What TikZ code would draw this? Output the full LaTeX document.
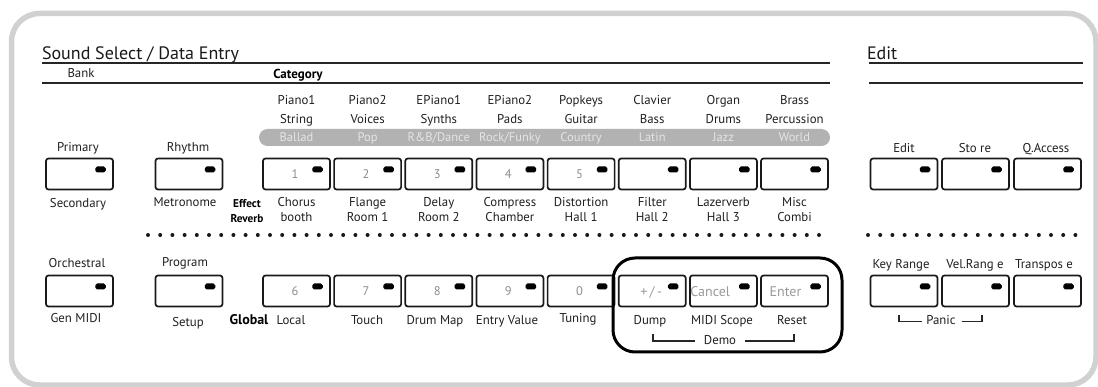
\documentclass[tikz,border=0pt]{standalone}
\usepackage{fontspec}
\setmainfont{PT Sans}
\newcommand\slashtxt{/}
\begin{document}
\begin{tikzpicture}[x=1pt,y=-1pt,
  every node/.style={inner sep=0pt,outer sep=0pt},
  lbl/.style={font=\fontsize{12.8}{12.8}\selectfont,text=black!88,text height=9pt,text depth=0pt},
  title/.style={font=\fontsize{18}{18}\selectfont,text=black!90,text height=13pt,text depth=0pt},
  hbold/.style={font=\bfseries\fontsize{13}{13}\selectfont,text=black,text height=9pt,text depth=0pt},
  sbold/.style={font=\bfseries\fontsize{11.3}{11.3}\selectfont,text=black,text height=8pt,text depth=0pt},
  gbold/.style={font=\bfseries\fontsize{14}{14}\selectfont,text=black,text height=10pt,text depth=0pt},
  btn/.style={draw=black!90,line width=1.7pt,rounded corners=2.5pt,minimum width=67pt,minimum height=31pt},
  led/.style={fill=black,rounded corners=1.8pt,minimum width=10.5pt,minimum height=6pt},
  num/.style={font=\fontsize{12.5}{12.5}\selectfont,text=black!45,text height=8.5pt,text depth=0pt},
  bignum/.style={font=\fontsize{14}{14}\selectfont,text=black!40,text height=10pt,text depth=0pt},
  bartxt/.style={font=\fontsize{12.5}{12.5}\selectfont,text=black!10,text height=8.5pt,text depth=0pt},
  rule/.style={line width=2pt,draw=black!85},
  brk/.style={line width=1.5pt,draw=black!85},
  dotc/.style={fill=black!90}
]
\useasboundingbox (0,0) rectangle (1098,387);
% outer frame
\draw[black!18,line width=5.5pt,rounded corners=28pt] (11.5,13.5) rectangle (1096,385);

% headers
\node[title,anchor=west] (sstitle) at (42,53) {Sound Select / Data Entry};
\node[title,anchor=west] (edtitle) at (867,53) {Edit};
\draw[rule] (42,63) -- (830,63);
\draw[rule] (42,83) -- (830,83);
\draw[rule] (869,63) -- (1083,63);
\draw[rule] (869,83) -- (1083,83);
\node[lbl] (bank) at (81,73) {Bank};
\node[hbold] (category) at (298,74) {Category};

% gray band
\node[fill=black!30,rounded corners=8.5pt,minimum width=571pt,minimum height=17pt] (band) at (544.5,137.5) {};

% top row buttons
\foreach \n/\x in {pri/79.5,rhy/189,c1/296.5,c2/367.6,c3/438.8,c4/509.9,c5/581.1,c6/652.2,c7/723.4,c8/794.5,ed/904,st/975.5,qa/1047.5}{
  \node[btn] (\n) at (\x,174) {};
  \node[led] (\n-led) at ([xshift=21pt,yshift=4.5pt]\n.center) {};
}
% bottom row buttons
\foreach \n/\x in {orc/79.5,prg/189,d1/296.5,d2/367.6,d3/438.8,d4/509.9,d5/581.1,d6/652.2,d7/723.4,d8/794.5,kr/904,vr/975.5,tr/1047.5}{
  \node[btn] (\n) at (\x,291) {};
  \node[led] (\n-led) at ([xshift=21pt,yshift=4.5pt]\n.center) {};
}

% category texts
\foreach \n/\a/\b/\c/\d/\e in {c1/Piano1/String/Ballad/Chorus/booth,
  c2/Piano2/Voices/Pop/Flange/Room 1,
  c3/EPiano1/Synths/R\&B\slashtxt Dance/Delay/Room 2,
  c4/EPiano2/Pads/Rock\slashtxt Funky/Compress/Chamber,
  c5/Popkeys/Guitar/Country/Distortion/Hall 1,
  c6/Clavier/Bass/Latin/Filter/Hall 2,
  c7/Organ/Drums/Jazz/Lazerverb/Hall 3,
  c8/Brass/Percussion/World/Misc/Combi}{
  \path (\n.center) ++(0,-74) node[lbl] (\n-t1) {\a};
  \path (\n.center) ++(0,-55) node[lbl] (\n-t2) {\b};
  \path (\n.center) ++(0,-36.5) node[bartxt] (\n-bar) {\c};
  \path (\n.center) ++(0,28) node[lbl] (\n-b1) {\d};
  \path (\n.center) ++(0,43) node[lbl] (\n-b2) {\e};
}

% numbers
\foreach \n/\t in {c1/1,c2/2,c3/3,c4/4,c5/5,d1/6,d2/7,d3/8,d4/9,d5/0}{
  \node[num] (\n-num) at ([xshift=-1.5pt,yshift=-0.5pt]\n.center) {\t};
}
\node[bignum] (d6-num) at ([xshift=-1pt,yshift=-0.5pt]d6.center) {+\,/\,-};
\node[bignum,anchor=west] (d7-num) at ([xshift=-33pt,yshift=-0.5pt]d7.center) {Cancel};
\node[bignum] (d8-num) at ([xshift=-9pt,yshift=-0.5pt]d8.center) {Enter};

% left and right labels, top row
\node[lbl] (primary) at (78,147) {Primary};
\node[lbl] (rhythm) at (188,147) {Rhythm};
\node[lbl] (secondary) at (78,203) {Secondary};
\node[lbl] (metronome) at (185,202) {Metronome};
\node[sbold] (effect) at (247,204) {Effect};
\node[sbold] (reverb) at (247,219) {Reverb};
\node[lbl] (edit) at (904,148) {Edit};
\node[lbl] (store) at (975,148) {Sto re};
\node[lbl] (qaccess) at (1046,148) {Q.Access};

% dotted separators
\foreach \i in {0,...,55}{\fill[dotc] (148+\i*12.2,235) circle (2);}
\foreach \i in {0,...,17}{\fill[dotc] (868+\i*12.2,235) circle (2);}

% bottom row labels
\node[lbl] (orchestral) at (77,263) {Orchestral};
\node[lbl] (program) at (185,262) {Program};
\node[lbl] (genmidi) at (76,318) {Gen MIDI};
\node[lbl] (setup) at (188,322) {Setup};
\node[gbold] (global) at (249,320) {Global};
\node[lbl] (local) at (291,320) {Local};
\node[lbl] (touch) at (367,320) {Touch};
\node[lbl] (drummap) at (435,320) {Drum Map};
\node[lbl] (entryvalue) at (507,320) {Entry Value};
\node[lbl] (tuning) at (578,318) {Tuning};
\node[lbl] (dump) at (650,320) {Dump};
\node[lbl] (midiscope) at (722,320) {MIDI Scope};
\node[lbl] (reset) at (792,320) {Reset};
\node[lbl] (keyrange) at (901,264) {Key Range};
\node[lbl] (velrange) at (975,264) {Vel.Rang e};
\node[lbl] (transpose) at (1044,264) {Transpos e};

% demo group
\node[draw=black,line width=3pt,rounded corners=22pt,minimum width=229pt,minimum height=94pt] (demobox) at (727.5,305) {};
\node[lbl] (demo) at (720,340) {Demo};
\draw[brk] (653,334) |- ([xshift=-9pt,yshift=-1pt]demo.west);
\draw[brk] ([xshift=9pt,yshift=-1pt]demo.east) -| (794,334);

% panic
\node[lbl] (panic) at (941,320) {Panic};
\draw[brk] (899,315) |- ([xshift=-4pt,yshift=-1.5pt]panic.west);
\draw[brk] ([xshift=6pt,yshift=-1.5pt]panic.east) -| (982,315);
\end{tikzpicture}
\end{document}
